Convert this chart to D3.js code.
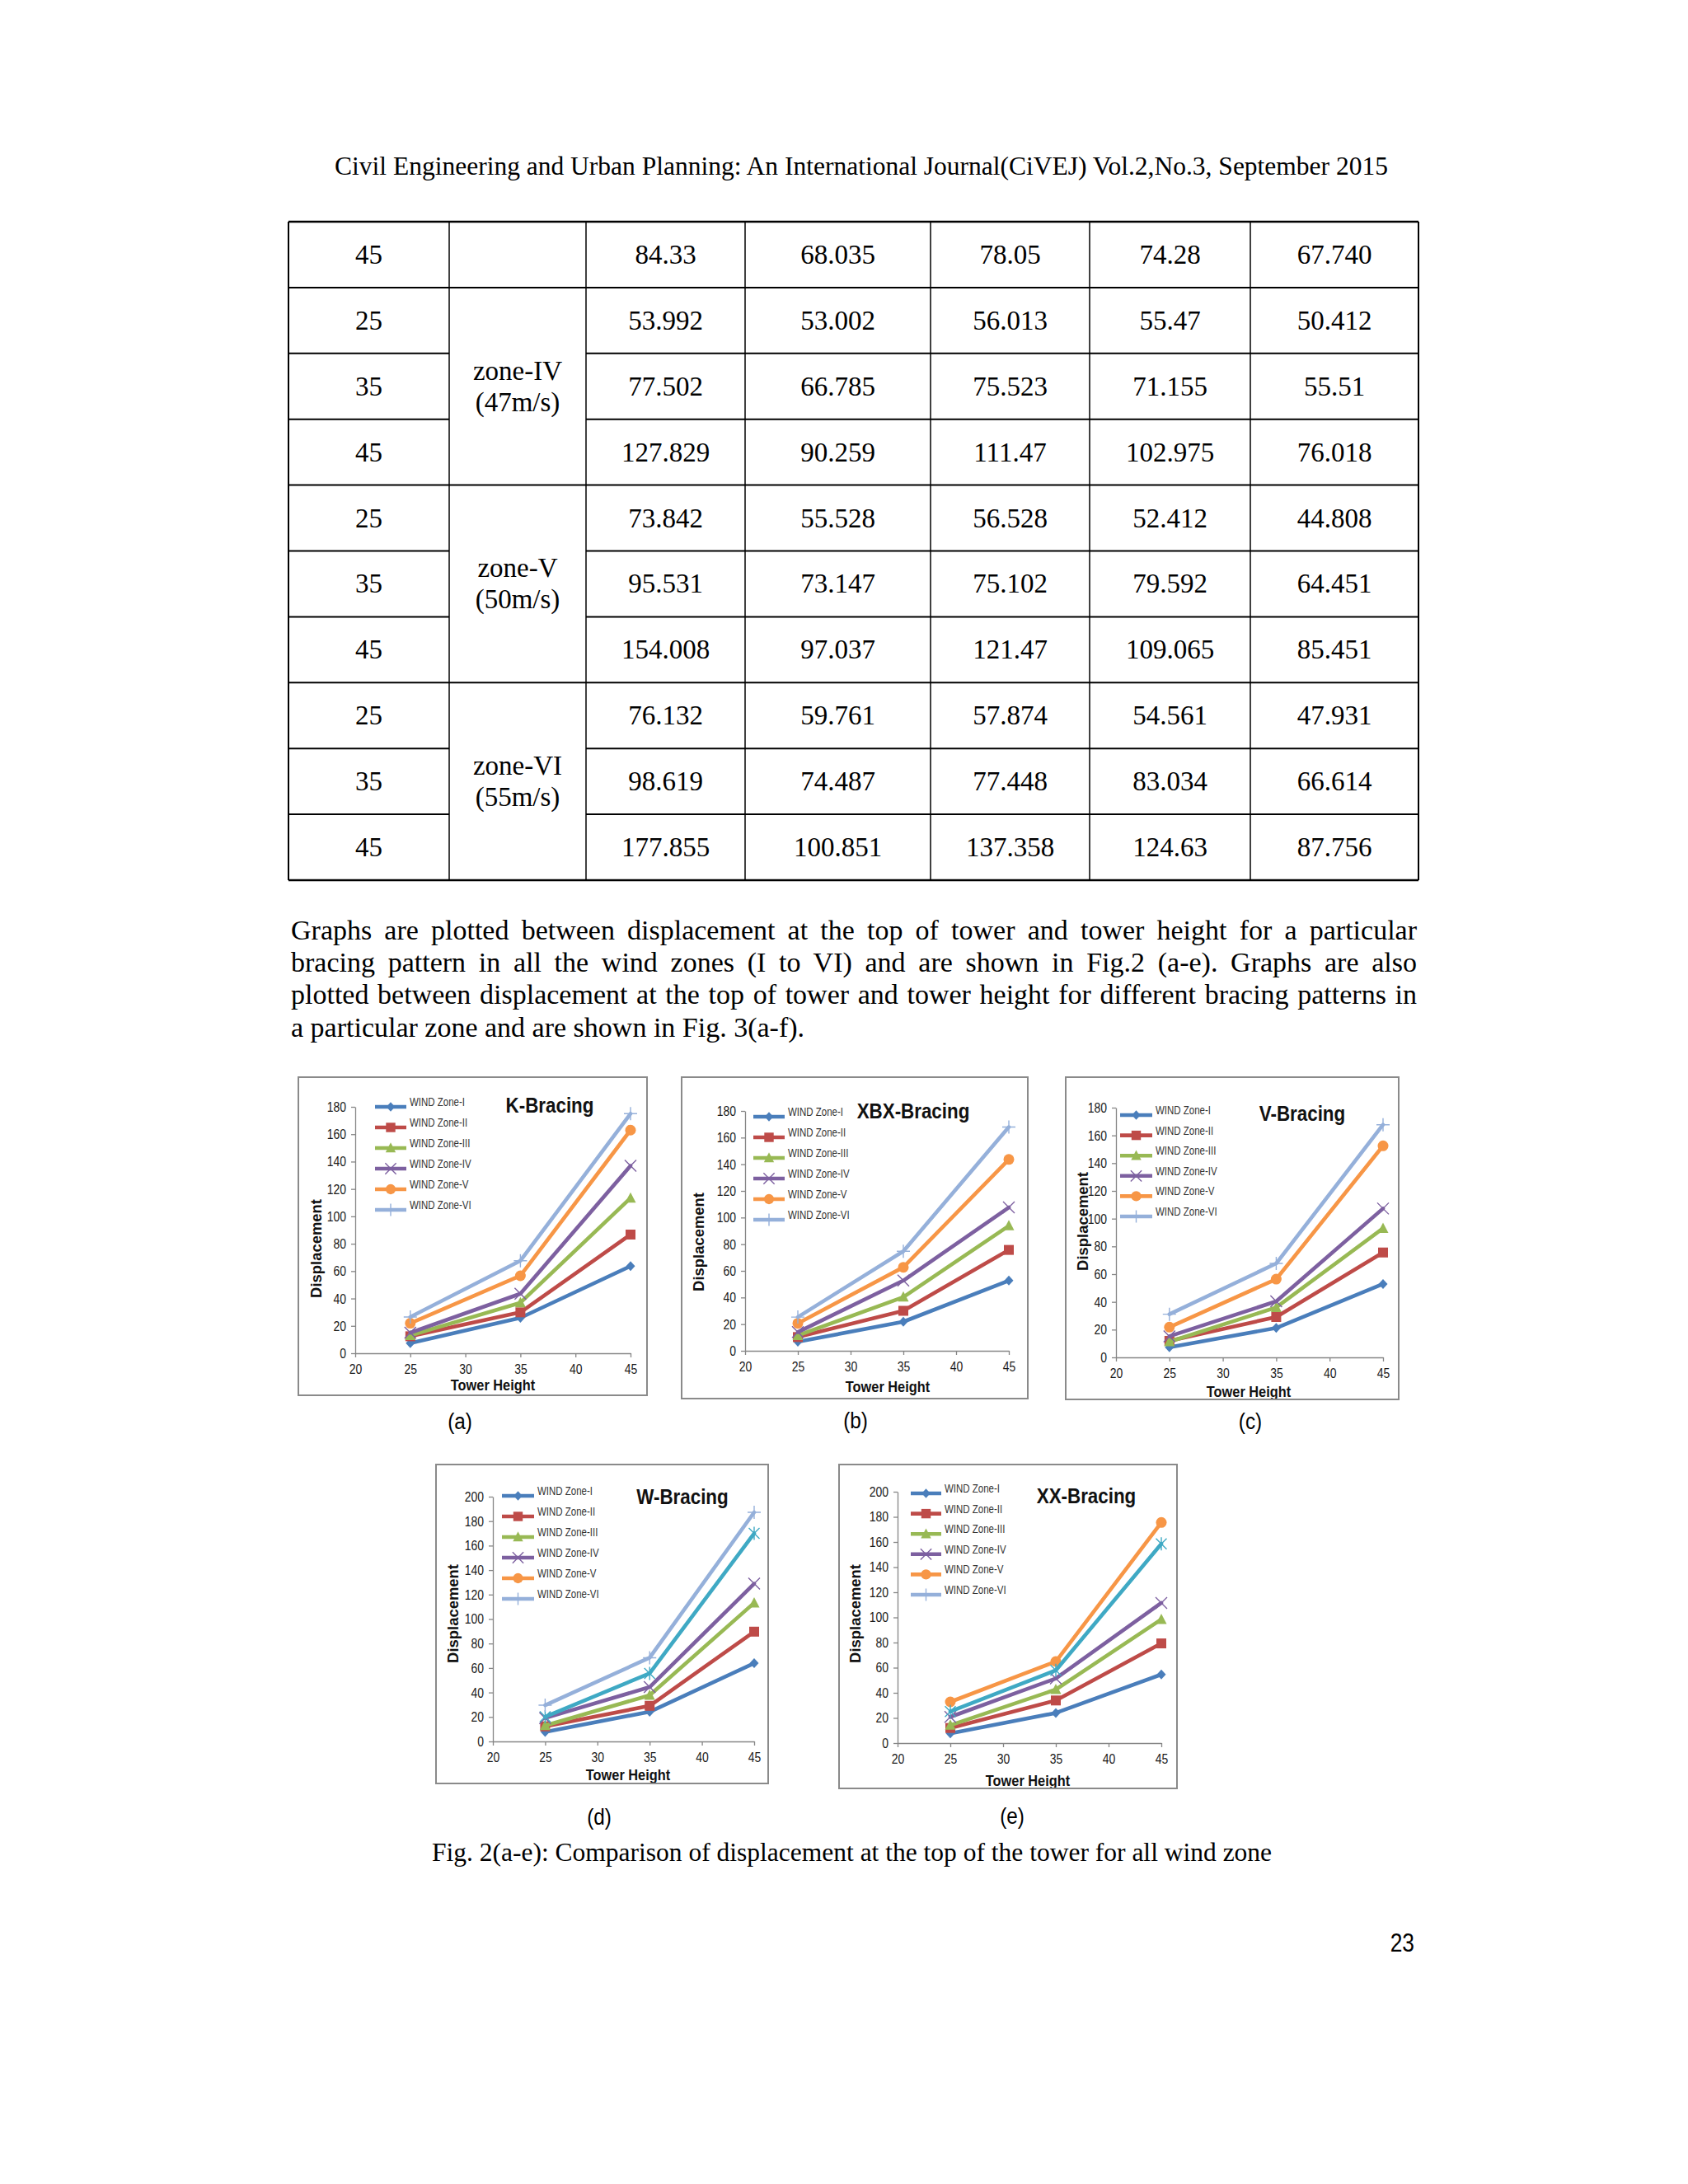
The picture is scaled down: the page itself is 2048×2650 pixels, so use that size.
<!DOCTYPE html>
<html><head><meta charset="utf-8">
<script src="https://cdn.jsdelivr.net/npm/d3@7"></script>
<style>body{margin:0;background:#fff} svg{display:block}</style>
</head><body><svg id="page" width="2048" height="2650"></svg>
<script>
// ---------------- DATA ----------------
const headerText = "Civil Engineering and Urban Planning: An International Journal(CiVEJ) Vol.2,No.3, September 2015";
const tableHeights = ["45","25","35","45","25","35","45","25","35","45"];
const tableValues = [
  ["84.33","68.035","78.05","74.28","67.740"],
  ["53.992","53.002","56.013","55.47","50.412"],
  ["77.502","66.785","75.523","71.155","55.51"],
  ["127.829","90.259","111.47","102.975","76.018"],
  ["73.842","55.528","56.528","52.412","44.808"],
  ["95.531","73.147","75.102","79.592","64.451"],
  ["154.008","97.037","121.47","109.065","85.451"],
  ["76.132","59.761","57.874","54.561","47.931"],
  ["98.619","74.487","77.448","83.034","66.614"],
  ["177.855","100.851","137.358","124.63","87.756"]
];
const zoneNames = ["zone-IV","zone-V","zone-VI"];
const zoneSpeeds = ["(47m/s)","(50m/s)","(55m/s)"];
const zoneFirstRow = [1,4,7];
const paragraphLines = [
  "Graphs are plotted between displacement at the top of tower and tower height for a particular",
  "bracing pattern in all the wind zones (I to VI) and are shown in Fig.2 (a-e). Graphs are also",
  "plotted between displacement at the top of tower and tower height for different bracing patterns in",
  "a particular zone and are shown in Fig. 3(a-f)."
];
const captionText = "Fig. 2(a-e): Comparison of displacement at the top of the tower for all wind zone";
const pageNumber = "23";

const towerHeights = [25,35,45];
const windZones = ["WIND Zone-I","WIND Zone-II","WIND Zone-III","WIND Zone-IV","WIND Zone-V","WIND Zone-VI"];
const xTickValues = [20,25,30,35,40,45];
const yTicks180 = [0,20,40,60,80,100,120,140,160,180];
const yTicks200 = [0,20,40,60,80,100,120,140,160,180,200];

const kBracing   = [[7.4,25.9,63.6],[12.4,29.9,86.7],[13,36.9,113.4],[15,43.5,136.9],[21.9,56.6,163],[26.5,67.6,175]];
const xbxBracing = [[6.8,21.8,52.7],[10.3,30,75.7],[11.5,40.3,93.8],[14,52.7,107.6],[20.6,62.7,143.6],[25.3,74.7,167.9]];
const vBracing   = [[7.3,21.2,52.9],[11.9,29.1,75.6],[11.3,36,93],[15.2,40.4,107.3],[21.8,56.4,152.5],[31.1,67.7,167.7]];
const wBracing   = [[7.8,24.2,63.9],[12.3,29.1,89.7],[13,37.7,113.2],[19.1,44.4,128.9],[20.2,55.6,170],[29.6,68.4,187.2]];
const xxBracing  = [[7.7,24,54.6],[12,33.9,79.3],[14.2,42.6,98.4],[20.8,51.4,111.5],[32.8,64.9,175.5],[25.1,57.9,158.5]];

// ---------------- STYLE / LAYOUT ----------------
const serif = "'Liberation Serif','Times New Roman',serif";
const sans = "'Liberation Sans',Arial,sans-serif";
const seriesColors = ["#4A7EBB","#BE4B48","#98B954","#7D60A0","#F79646","#95B0DA"];
const seriesMarkers = ["diamond","square","triangle","x","circle","plus"];
const teal = "#3FA9C4";

function condense(sel, f){
  sel.each(function(){
    const w = this.getComputedTextLength();
    d3.select(this).attr("textLength", w*f).attr("lengthAdjust","spacingAndGlyphs");
  });
  return sel;
}

const svg = d3.select("#page");
svg.append("rect").attr("width",2048).attr("height",2650).attr("fill","#fff");

// header
svg.append("text").attr("x",1045).attr("y",212).attr("text-anchor","middle")
  .attr("font-family",serif).attr("font-size",31.5).attr("fill","#000").text(headerText);

// ---------------- TABLE ----------------
const colEdges = [350,545,711,904,1129,1322,1517,1721];
const tableTop = 269, rowH = 79.9;
const tbl = svg.append("g");
const rowY = i => tableTop + i*rowH;
for (let i=0;i<=tableHeights.length;i++){
  const y = rowY(i);
  const thick = (i===0||i===tableHeights.length) ? 2.5 : 2;
  const internal = zoneFirstRow.some(f => i>f && i<f+3);
  if (internal){
    tbl.append("line").attr("x1",colEdges[0]).attr("x2",colEdges[1]).attr("y1",y).attr("y2",y).attr("stroke","#000").attr("stroke-width",thick);
    tbl.append("line").attr("x1",colEdges[2]).attr("x2",colEdges[7]).attr("y1",y).attr("y2",y).attr("stroke","#000").attr("stroke-width",thick);
  } else {
    tbl.append("line").attr("x1",colEdges[0]).attr("x2",colEdges[7]).attr("y1",y).attr("y2",y).attr("stroke","#000").attr("stroke-width",thick);
  }
}
colEdges.forEach((x,i)=>{
  tbl.append("line").attr("x1",x).attr("x2",x).attr("y1",rowY(0)).attr("y2",rowY(tableHeights.length))
    .attr("stroke","#000").attr("stroke-width",(i===0||i===7)?2:1.5);
});
const colCenter = i => (colEdges[i]+colEdges[i+1])/2;
tableHeights.forEach((h,r)=>{
  const cy = rowY(r)+rowH/2;
  tbl.append("text").attr("x",colCenter(0)).attr("y",cy+11).attr("text-anchor","middle")
    .attr("font-family",serif).attr("font-size",33).text(h);
  tableValues[r].forEach((v,c)=>{
    tbl.append("text").attr("x",colCenter(c+2)).attr("y",cy+11).attr("text-anchor","middle")
      .attr("font-family",serif).attr("font-size",33).text(v);
  });
});
zoneNames.forEach((z,i)=>{
  const cy = rowY(zoneFirstRow[i]) + rowH*1.5;
  tbl.append("text").attr("x",colCenter(1)).attr("y",cy-8).attr("text-anchor","middle")
    .attr("font-family",serif).attr("font-size",33).text(z);
  tbl.append("text").attr("x",colCenter(1)).attr("y",cy+30).attr("text-anchor","middle")
    .attr("font-family",serif).attr("font-size",33).text(zoneSpeeds[i]);
});

// ---------------- PARAGRAPH ----------------
const paraL = 353, paraR = 1719;
paragraphLines.forEach((line,i)=>{
  const t = svg.append("text").attr("x",paraL).attr("y",1140+i*39.2)
    .attr("font-family",serif).attr("font-size",34).attr("fill","#000").text(line);
  if (i < paragraphLines.length-1){
    const w = t.node().getComputedTextLength();
    const n = line.split(" ").length-1;
    t.attr("word-spacing",((paraR-paraL)-w)/n);
  }
});

// ---------------- CHARTS ----------------
function drawMarker(g, type, color, s){
  s = s||1;
  if (type==="diamond") g.append("path").attr("d",`M0,${-6*s}L${5.5*s},0L0,${6*s}L${-5.5*s},0Z`).attr("fill",color);
  else if (type==="square") g.append("rect").attr("x",-6*s).attr("y",-6*s).attr("width",12*s).attr("height",12*s).attr("fill",color);
  else if (type==="triangle") g.append("path").attr("d",`M0,${-7*s}L${6.5*s},${5.5*s}L${-6.5*s},${5.5*s}Z`).attr("fill",color);
  else if (type==="circle") g.append("circle").attr("r",6.5*s).attr("fill",color);
  else if (type==="x"){
    g.append("path").attr("d",`M${-7*s},${-7*s}L${7*s},${7*s}M${7*s},${-7*s}L${-7*s},${7*s}`).attr("stroke",color).attr("stroke-width",1.4).attr("fill","none");
  } else if (type==="plus"){
    g.append("path").attr("d",`M${-8*s},0L${8*s},0M0,${-8*s}L0,${8*s}`).attr("stroke",color).attr("stroke-width",1.4).attr("fill","none");
  } else if (type==="asterisk"){
    g.append("path").attr("d",`M${-6.5*s},${-6.5*s}L${6.5*s},${6.5*s}M${6.5*s},${-6.5*s}L${-6.5*s},${6.5*s}M0,${-8*s}L0,${8*s}`).attr("stroke",color).attr("stroke-width",1.4).attr("fill","none");
  }
}

const charts = [
  {id:"a", data:kBracing, title:"K-Bracing", box:[362,1307,785,1693], xr:[431,765], yr:[1642,1343], ymax:180, yTicks:yTicks180,
   legend:{x1:455,x2:493,y0:1343,step:25}, titleX:667, titleY:1350, ylabX:383, ylabY:1515, xlabX:598, xlabY:1687, subX:558, subY:1734, override:null},
  {id:"b", data:xbxBracing, title:"XBX-Bracing", box:[827,1307,1247,1697], xr:[904,1224], yr:[1639,1348], ymax:180, yTicks:yTicks180,
   legend:{x1:914,x2:952,y0:1355,step:25}, titleX:1108, titleY:1357, ylabX:847, ylabY:1507, xlabX:1077, xlabY:1689, subX:1038, subY:1733, override:null},
  {id:"c", data:vBracing, title:"V-Bracing", box:[1293,1307,1697,1698], xr:[1354,1678], yr:[1647,1344], ymax:180, yTicks:yTicks180,
   legend:{x1:1359,x2:1398,y0:1353,step:24.6}, titleX:1580, titleY:1360, ylabX:1313, ylabY:1482, xlabX:1515, xlabY:1695, subX:1517, subY:1734, override:null},
  {id:"d", data:wBracing, title:"W-Bracing", box:[529,1777,932,2164], xr:[598,915], yr:[2113,1816], ymax:200, yTicks:yTicks200,
   legend:{x1:609,x2:648,y0:1815,step:25}, titleX:828, titleY:1825, ylabX:549, ylabY:1958, xlabX:762, xlabY:2160, subX:727, subY:2214, override:{series:4,color:teal,marker:"asterisk"}},
  {id:"e", data:xxBracing, title:"XX-Bracing", box:[1018,1777,1428,2170], xr:[1089,1409], yr:[2115,1810], ymax:200, yTicks:yTicks200,
   legend:{x1:1105,x2:1142,y0:1812,step:24.6}, titleX:1318, titleY:1824, ylabX:1037, ylabY:1958, xlabX:1247, xlabY:2167, subX:1228, subY:2213, override:{series:5,color:teal,marker:"asterisk"}}
];

charts.forEach(cfg=>{
  const [bx0,by0,bx1,by1] = cfg.box;
  const g = svg.append("g");
  const clipId = "clip-"+cfg.id;
  g.append("clipPath").attr("id",clipId).append("rect").attr("x",bx0).attr("y",by0).attr("width",bx1-bx0).attr("height",by1-by0);
  const inner = g.append("g").attr("clip-path",`url(#${clipId})`);
  inner.append("rect").attr("x",bx0).attr("y",by0).attr("width",bx1-bx0).attr("height",by1-by0).attr("fill","#fff");

  const x = d3.scaleLinear().domain([20,45]).range(cfg.xr);
  const y = d3.scaleLinear().domain([0,cfg.ymax]).range(cfg.yr);

  const ya = inner.append("g").attr("transform",`translate(${cfg.xr[0]},0)`)
    .call(d3.axisLeft(y).tickValues(cfg.yTicks).tickSize(5).tickSizeOuter(0).tickPadding(6));
  const xa = inner.append("g").attr("transform",`translate(0,${cfg.yr[0]})`)
    .call(d3.axisBottom(x).tickValues(xTickValues).tickSize(5).tickSizeOuter(0).tickPadding(8));
  [ya,xa].forEach(a=>{
    a.select(".domain").attr("stroke","#868686").attr("stroke-width",1.3);
    a.selectAll(".tick line").attr("stroke","#868686").attr("stroke-width",1.3);
    condense(a.selectAll(".tick text").attr("font-family",sans).attr("font-size",17).attr("fill","#1a1a1a"), 0.82);
  });

  const line = d3.line().x((d,j)=>x(towerHeights[j])).y(d=>y(d));
  cfg.data.forEach((vals,i)=>{
    let color = seriesColors[i], marker = seriesMarkers[i];
    if (cfg.override && cfg.override.series===i){ color = cfg.override.color; marker = cfg.override.marker; }
    inner.append("path").datum(vals).attr("d",line).attr("fill","none").attr("stroke",color)
      .attr("stroke-width",4.6).attr("stroke-linejoin","round").attr("stroke-linecap","round");
    vals.forEach((v,j)=>{
      drawMarker(inner.append("g").attr("transform",`translate(${x(towerHeights[j])},${y(v)})`), marker, color, 1);
    });
  });

  const L = cfg.legend;
  windZones.forEach((name,i)=>{
    const ly = L.y0 + i*L.step;
    inner.append("line").attr("x1",L.x1).attr("x2",L.x2).attr("y1",ly).attr("y2",ly)
      .attr("stroke",seriesColors[i]).attr("stroke-width",4.6);
    drawMarker(inner.append("g").attr("transform",`translate(${(L.x1+L.x2)/2},${ly})`), seriesMarkers[i], seriesColors[i], 0.95);
    condense(inner.append("text").attr("x",L.x2+4).attr("y",ly-1).attr("font-family",sans).attr("font-size",14)
      .attr("fill","#333").text(name), 0.82);
  });

  condense(inner.append("text").attr("x",cfg.titleX).attr("y",cfg.titleY).attr("text-anchor","middle")
    .attr("font-family",sans).attr("font-weight","bold").attr("font-size",26).attr("fill","#111").text(cfg.title), 0.86);
  condense(inner.append("text").attr("transform",`translate(${cfg.ylabX},${cfg.ylabY}) rotate(-90)`).attr("dy","0.35em")
    .attr("text-anchor","middle").attr("font-family",sans).attr("font-weight","bold").attr("font-size",19)
    .attr("fill","#111").text("Displacement"), 0.97);
  condense(inner.append("text").attr("x",cfg.xlabX).attr("y",cfg.xlabY).attr("text-anchor","middle")
    .attr("font-family",sans).attr("font-weight","bold").attr("font-size",19).attr("fill","#111").text("Tower Height"), 0.86);

  g.append("rect").attr("x",bx0).attr("y",by0).attr("width",bx1-bx0).attr("height",by1-by0)
    .attr("fill","none").attr("stroke","#8a8a8a").attr("stroke-width",2);

  condense(svg.append("text").attr("x",cfg.subX).attr("y",cfg.subY).attr("text-anchor","middle")
    .attr("font-family",sans).attr("font-size",27).attr("fill","#000").text(`(${cfg.id})`), 0.9);
});

svg.append("text").attr("x",524).attr("y",2258).attr("font-family",serif).attr("font-size",31.5).attr("fill","#000").text(captionText);
condense(svg.append("text").attr("x",1716).attr("y",2368).attr("text-anchor","end").attr("font-family",sans).attr("font-size",31).attr("fill","#000").text(pageNumber), 0.85);
</script></body></html>
